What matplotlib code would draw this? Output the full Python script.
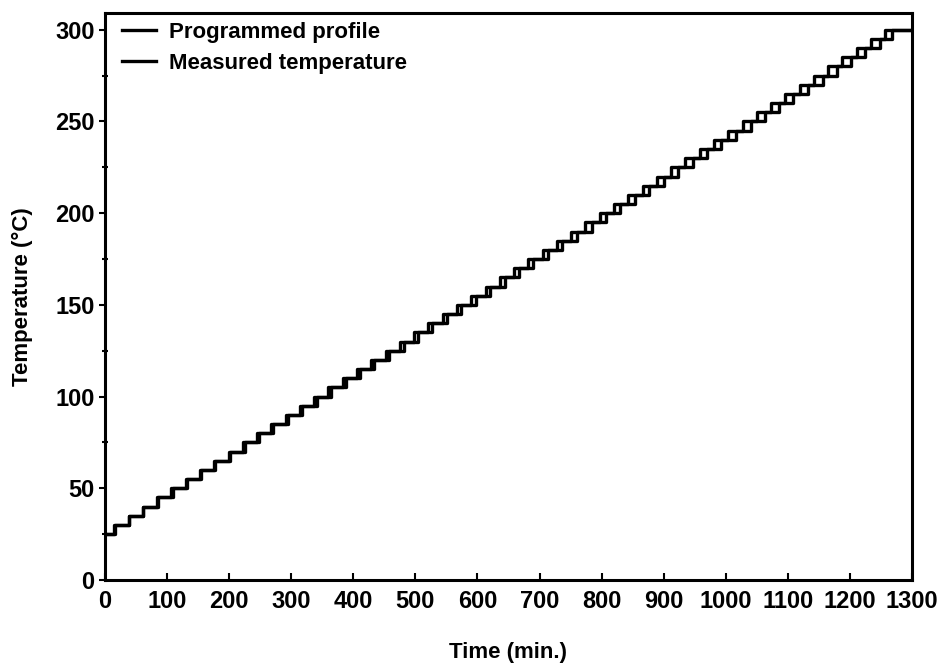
import matplotlib
matplotlib.use("Agg")
import matplotlib.pyplot as plt

plt.rcParams['font.family'] = ['Liberation Sans', 'DejaVu Sans']
plt.rcParams['font.weight'] = 'bold'

# Datos
temperaturas = [25, 30, 35, 40, 45, 50, 55, 60, 65, 70, 75, 80, 85, 90, 95,
                100, 105, 110, 115, 120, 125, 130, 135, 140, 145, 150, 155,
                160, 165, 170, 175, 180, 185, 190, 195, 200, 205, 210, 215,
                220, 225, 230, 235, 240, 245, 250, 255, 260, 265, 270, 275,
                280, 285, 290, 295, 300]

# minutos en que el programa sube un escalon
t_programa = [15, 38, 61, 84, 107, 130, 153, 176, 199, 222, 245, 268, 291,
              314, 337, 360, 383, 406, 429, 452, 475, 498, 521, 544, 567,
              590, 613, 636, 659, 682, 705, 728, 751, 774, 797, 820, 843,
              866, 889, 912, 935, 958, 981, 1004, 1027, 1050, 1073, 1096,
              1119, 1142, 1165, 1188, 1211, 1234, 1257]

# minutos en que la medida sube (con retraso)
t_medida = [16, 39, 62, 86, 109, 132, 155, 178, 201, 225, 248, 271, 294,
            318, 341, 364, 388, 411, 434, 457, 481, 504, 527, 551, 574,
            597, 620, 644, 667, 690, 714, 737, 760, 784, 807, 830, 854,
            877, 900, 923, 947, 970, 993, 1016, 1040, 1063, 1086, 1109,
            1132, 1156, 1179, 1202, 1225, 1248, 1268]

T_FIN = 1300


def escalera(tiempos, temps):
    x = [0] + tiempos + [T_FIN]
    y = temps + [temps[-1]]
    return x, y


fig = plt.figure(figsize=(9.4, 6.64), dpi=100)
ax = fig.add_axes([0.1117, 0.1265, 0.8585, 0.8535])

xp, yp = escalera(t_programa, temperaturas)
xm, ym = escalera(t_medida, temperaturas)
ax.step(xp, yp, where='post', color='black', lw=2.4, label='Programmed profile')
ax.step(xm, ym, where='post', color='black', lw=2.4, label='Measured temperature')

ax.set_xlim(0, 1300)
ax.set_ylim(0, 309)
ax.set_xticks(range(0, 1301, 100))
ax.set_yticks(range(0, 301, 50))
ax.set_yticks(range(25, 301, 50), minor=True)
ax.tick_params(axis='x', direction='in', length=5, width=1.5, labelsize=17, pad=7)
ax.tick_params(axis='y', direction='out', length=4, width=1.5, labelsize=17)
ax.tick_params(axis='y', which='minor', direction='inout', length=4, width=1.5)

for s in ax.spines.values():
    s.set_linewidth(2.2)

ax.set_xlabel('Time (min.)', fontsize=16, fontweight='bold', labelpad=21)
ax.set_ylabel('Temperature (°C)', fontsize=16, fontweight='bold', labelpad=16)

leg = ax.legend(loc='upper left', bbox_to_anchor=(0.005, 1.009), frameon=False,
                fontsize=16, handlelength=1.5, borderaxespad=0.2,
                labelspacing=0.45, handletextpad=0.6)

fig.savefig('out.png', dpi=100)
